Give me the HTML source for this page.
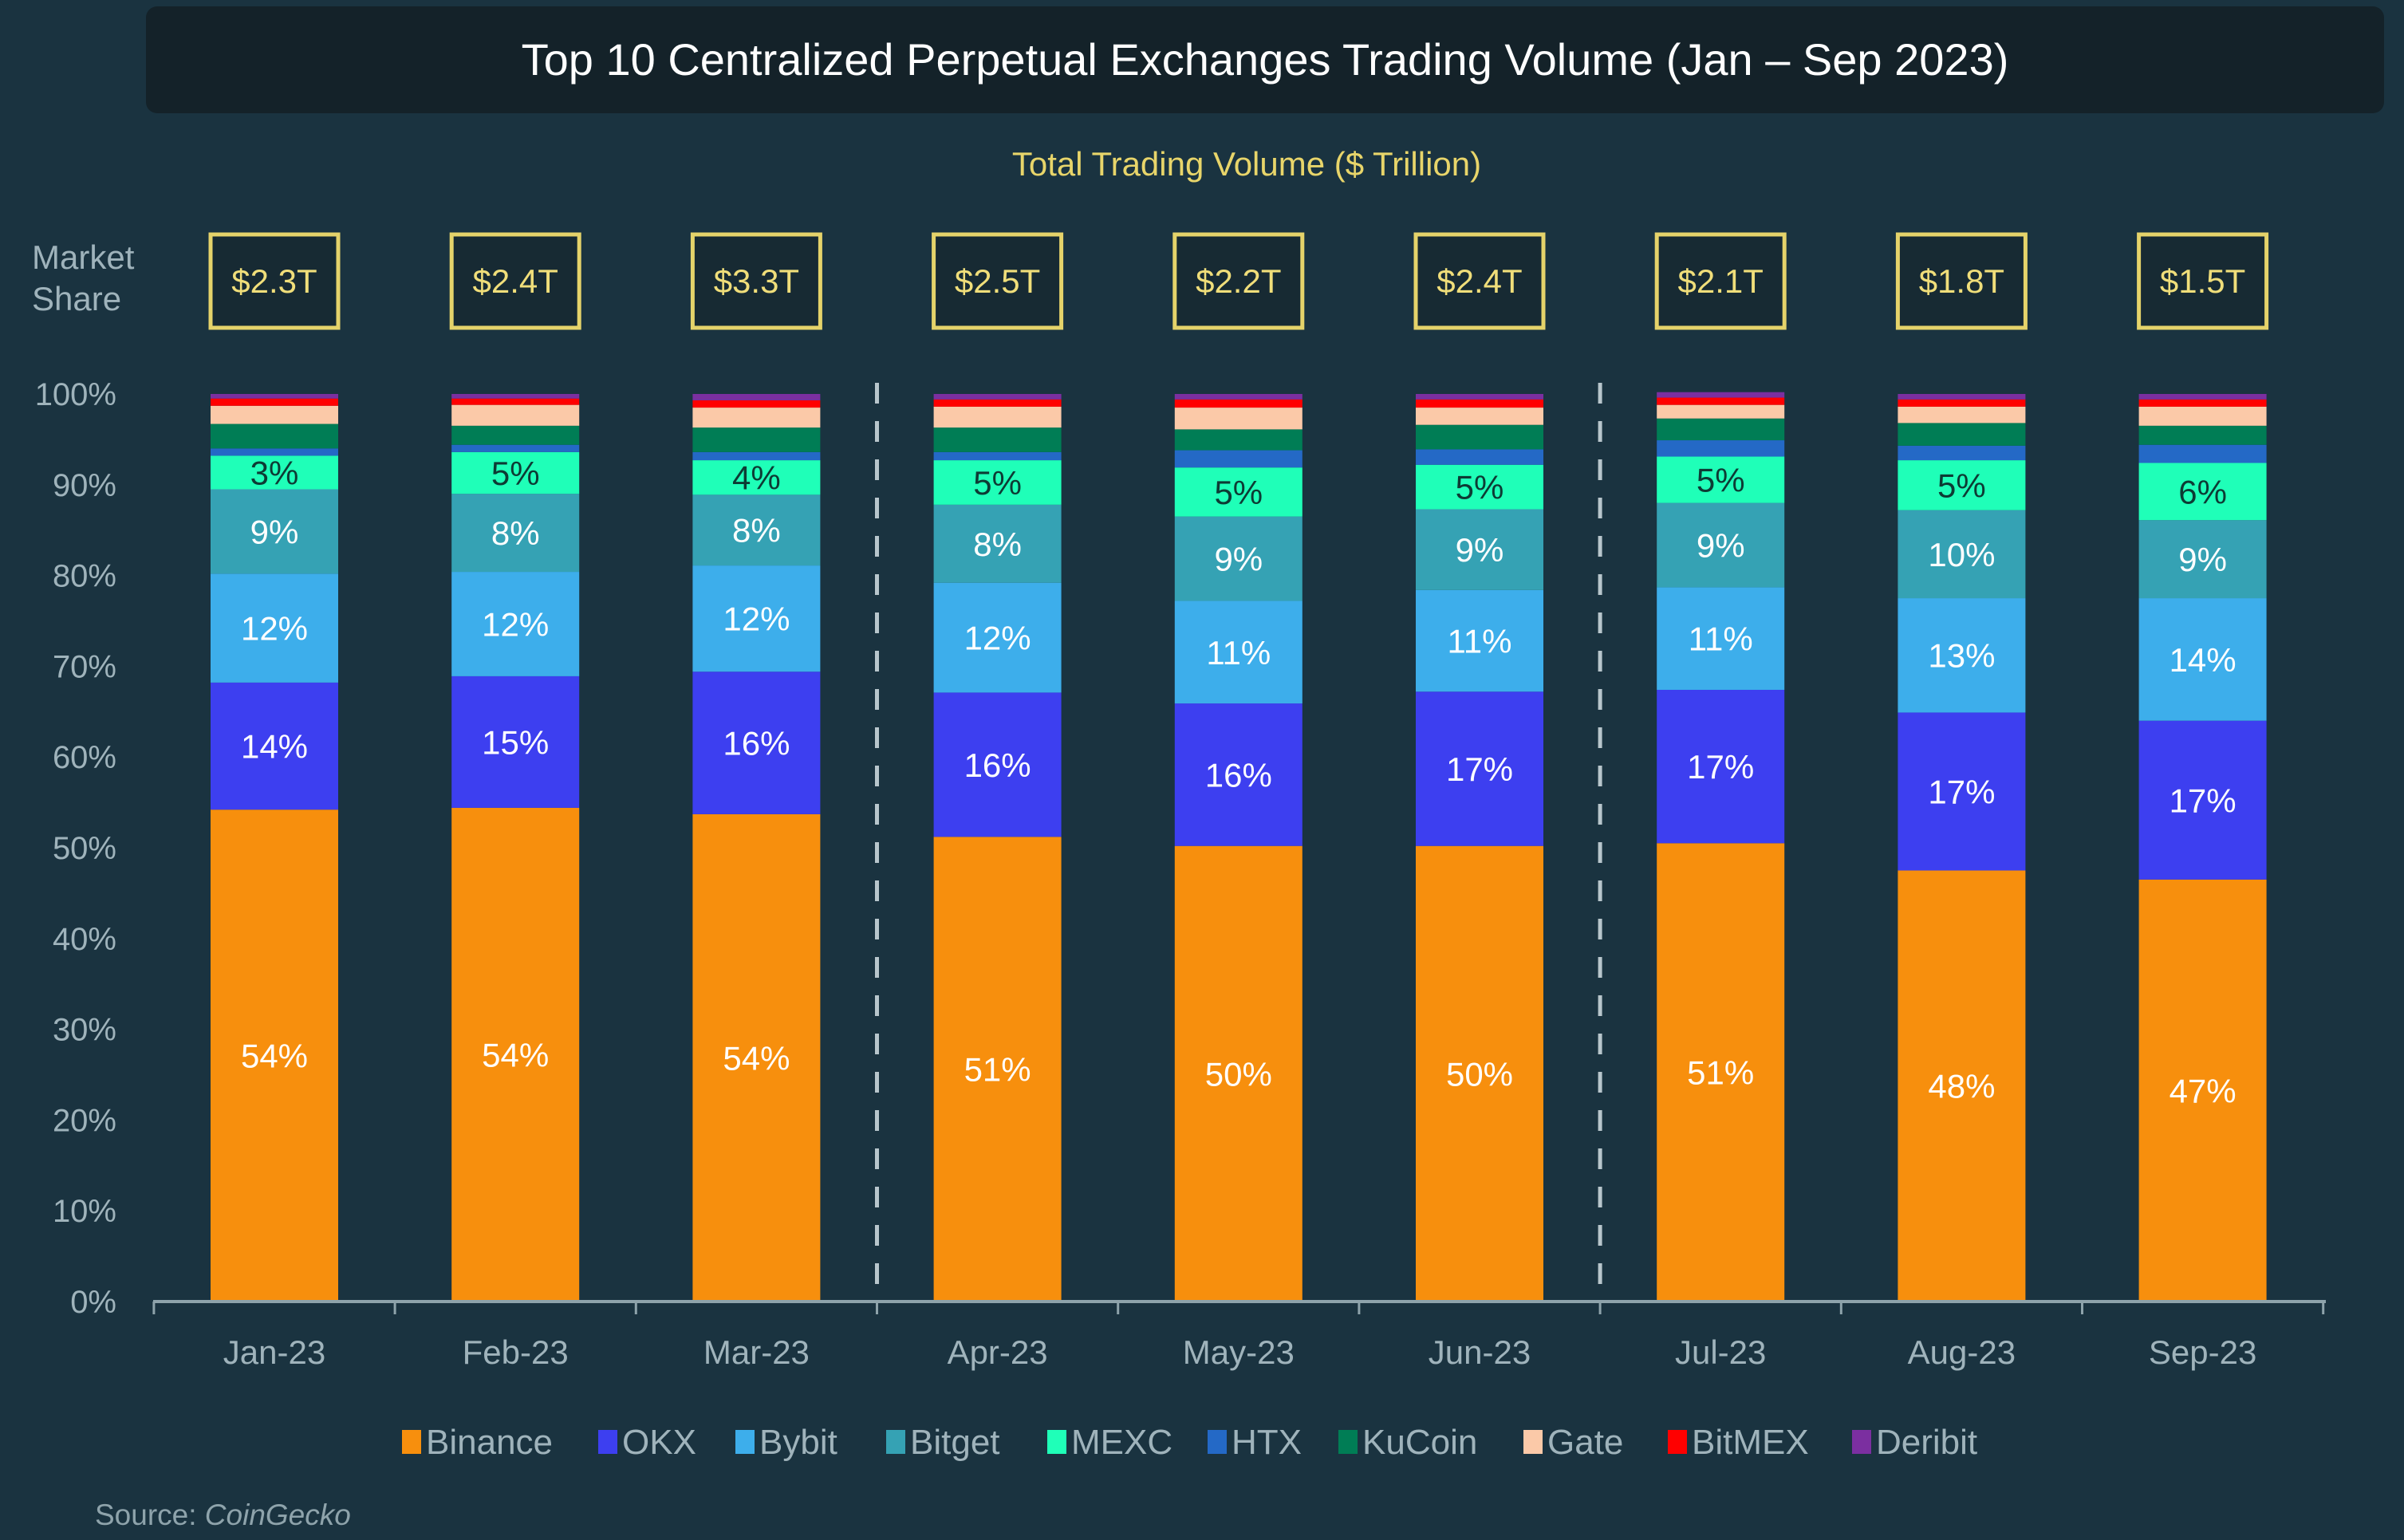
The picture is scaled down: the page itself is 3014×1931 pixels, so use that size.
<!DOCTYPE html>
<html><head><meta charset="utf-8"><style>
html,body{margin:0;padding:0;background:#1a3340;}
body{width:3014px;height:1926px;overflow:hidden;font-family:"Liberation Sans",sans-serif;}
</style></head><body>
<svg id="chart" width="3014" height="1926" xmlns="http://www.w3.org/2000/svg" font-family="Liberation Sans, sans-serif">
<rect x="0" y="0" width="3014" height="1926" fill="#1a3340"/>
<rect x="183" y="8" width="2806" height="134" rx="14" fill="#142229"/>
<text x="1586" y="94" font-size="56" fill="#ffffff" text-anchor="middle">Top 10 Centralized Perpetual Exchanges Trading Volume (Jan – Sep 2023)</text>
<text x="1563" y="220" font-size="42" fill="#e8d56a" text-anchor="middle">Total Trading Volume ($ Trillion)</text>
<text x="40" y="337" font-size="42" fill="#9fb3bb">Market</text>
<text x="40" y="389" font-size="42" fill="#9fb3bb">Share</text>
<text x="119" y="1912" font-size="37" fill="#8ea3ab">Source: <tspan font-style="italic">CoinGecko</tspan></text>
<g id="plot"></g>
</svg>
<script>
const categories=["Jan-23","Feb-23","Mar-23","Apr-23","May-23","Jun-23","Jul-23","Aug-23","Sep-23"];
const totals=["$2.3T","$2.4T","$3.3T","$2.5T","$2.2T","$2.4T","$2.1T","$1.8T","$1.5T"];
const seriesNames=["Binance","OKX","Bybit","Bitget","MEXC","HTX","KuCoin","Gate","BitMEX","Deribit"];
const binance=[54.2,54.4,53.7,51.2,50.2,50.2,50.5,47.5,46.5];
const okx=[14.0,14.5,15.7,15.9,15.7,17.0,16.9,17.4,17.5];
const bybit=[12.0,11.5,11.7,12.1,11.3,11.2,11.3,12.6,13.5];
const bitget=[9.3,8.6,7.8,8.6,9.3,8.9,9.3,9.7,8.6];
const mexc=[3.7,4.6,3.8,4.9,5.4,4.9,5.1,5.5,6.3];
const htx=[0.8,0.8,0.9,0.9,1.9,1.7,1.8,1.6,2.0];
const kucoin=[2.7,2.1,2.7,2.7,2.3,2.7,2.4,2.5,2.1];
const gate=[2.0,2.3,2.2,2.3,2.4,1.9,1.5,1.8,2.1];
const bitmex=[0.8,0.7,0.8,0.8,0.9,0.9,0.8,0.8,0.8];
const deribit=[0.5,0.5,0.7,0.6,0.6,0.6,0.6,0.6,0.6];
const binanceLabels=["54%","54%","54%","51%","50%","50%","51%","48%","47%"];
const okxLabels=["14%","15%","16%","16%","16%","17%","17%","17%","17%"];
const bybitLabels=["12%","12%","12%","12%","11%","11%","11%","13%","14%"];
const bitgetLabels=["9%","8%","8%","8%","9%","9%","9%","10%","9%"];
const mexcLabels=["3%","5%","4%","5%","5%","5%","5%","5%","6%"];
const yTicks=[0,10,20,30,40,50,60,70,80,90,100];

const series=[binance,okx,bybit,bitget,mexc,htx,kucoin,gate,bitmex,deribit];
const labels=[binanceLabels,okxLabels,bybitLabels,bitgetLabels,mexcLabels];
const colors=["#f78f0d","#3d3ff0","#3daeeb","#35a2b4","#1fffb8","#2469c6","#007d55","#fbc9a8","#ff0000","#7b2fa0"];
const NS="http://www.w3.org/2000/svg";
const plot=document.getElementById('plot');
const y0=1632,y100=494,x0=344,step=302.2,bw=160;
const yScale=v=>y0-(y0-y100)*v/100;
const xScale=i=>x0+i*step;
function mk(tag,attrs,parent){const e=document.createElementNS(NS,tag);for(const k in attrs)e.setAttribute(k,attrs[k]);(parent||plot).appendChild(e);return e;}

yTicks.forEach(t=>{
  const e=mk('text',{x:146,y:yScale(t)+14,'font-size':40,fill:'#9fb3bb','text-anchor':'end'});
  e.textContent=t+'%';
  
  
});

categories.forEach((c,i)=>{
  const cx=xScale(i);
  let acc=0;
  series.forEach((s,k)=>{
    const v=s[i];
    const top=yScale(acc+v), bot=yScale(acc);
    const r=mk('rect',{x:cx-bw/2,y:top,width:bw,height:bot-top,fill:colors[k]});
    
    
    if(k<labels.length){
      const t=mk('text',{x:cx,y:(top+bot)/2+15,'font-size':42,fill:k==4?'#0d3b34':'#ffffff','text-anchor':'middle'});
      t.textContent=labels[k][i];
      
      
    }
    acc+=v;
  });
  const bx=mk('rect',{x:cx-80,y:294,width:160,height:117,fill:'#172a33',stroke:'#e5d36a','stroke-width':5});
  
  
  const tt=mk('text',{x:cx,y:367,'font-size':42,fill:'#f0de7a','text-anchor':'middle'});
  tt.textContent=totals[i];
  
  
  const xl=mk('text',{x:cx,y:1710,'font-size':42,fill:'#9fb3bb','text-anchor':'middle'});
  xl.textContent=c;
  
  
});

const ax=mk('line',{x1:192,y1:y0,x2:2916,y2:y0,stroke:'#8ea3ab','stroke-width':4});


for(let i=0;i<=categories.length;i++){
  const tx=xScale(i)-step/2;
  const tk=mk('line',{x1:tx,y1:y0,x2:tx,y2:y0+16,stroke:'#8ea3ab','stroke-width':3});
  
  
}
[3,6].forEach(i=>{
  const dx=xScale(i)-step/2;
  const d=mk('line',{x1:dx,y1:480,x2:dx,y2:y0,stroke:'#b8c6cc','stroke-width':5,'stroke-dasharray':'26 22'});
  
  
});

const legX=[504,750,922,1111,1313,1514,1678,1910,2091,2322];
seriesNames.forEach((n,k)=>{
  const sq=mk('rect',{x:legX[k],y:1793,width:24,height:30,fill:colors[k]});
  
  
  const t=mk('text',{x:legX[k]+30,y:1823,'font-size':44,fill:'#9fb3bb'});
  t.textContent=n;
  
  
});
</script>
</body></html>
